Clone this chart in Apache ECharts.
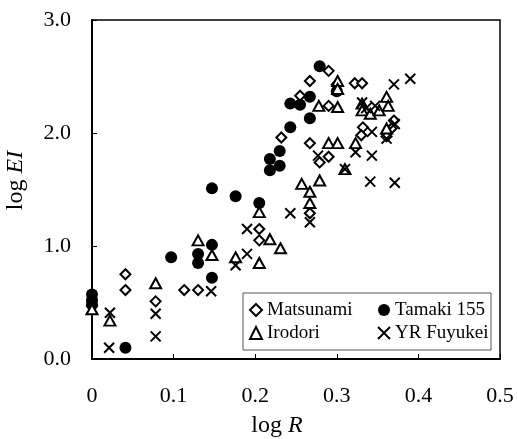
<!DOCTYPE html>
<html>
<head>
<meta charset="utf-8">
<script src="https://cdn.jsdelivr.net/npm/echarts@6/dist/echarts.min.js"></script>
<style>
  html, body { margin: 0; padding: 0; background: #fff; }
  #chart { width: 517px; height: 439px; }
</style>
</head>
<body>
<div id="chart"></div>
<script>
// [log R, log EI] pairs
var matsunami = [
  [0, 0.47], [0.041, 0.75], [0.041, 0.61], [0.078, 0.51], [0.113, 0.61], [0.130, 0.61],
  [0.205, 1.15], [0.205, 1.05], [0.267, 1.29], [0.232, 1.96], [0.255, 2.33], [0.267, 2.46],
  [0.290, 2.55], [0.290, 2.24], [0.300, 2.43], [0.322, 2.44], [0.331, 2.44], [0.267, 1.91],
  [0.279, 1.74], [0.290, 1.79], [0.332, 2.05], [0.330, 1.98], [0.370, 2.11], [0.367, 2.04],
  [0.361, 1.97]
];
var tamaki = [
  [0, 0.57], [0, 0.52], [0, 0.48], [0.041, 0.10], [0.097, 0.90], [0.130, 0.93], [0.130, 0.85],
  [0.147, 1.51], [0.147, 1.01], [0.147, 0.72], [0.176, 1.44], [0.205, 1.38], [0.218, 1.77],
  [0.230, 1.84], [0.230, 1.71], [0.218, 1.67], [0.243, 2.05], [0.267, 2.13], [0.243, 2.26],
  [0.255, 2.25], [0.267, 2.32], [0.279, 2.59], [0.300, 2.37]
];
var irodori = [
  [0, 0.44], [0.022, 0.34], [0.078, 0.67], [0.130, 1.05], [0.147, 0.92], [0.176, 0.90],
  [0.205, 0.85], [0.205, 1.30], [0.218, 1.06], [0.231, 0.98], [0.257, 1.55], [0.279, 1.58],
  [0.267, 1.48], [0.267, 1.38], [0.278, 2.24], [0.301, 2.23], [0.301, 2.46], [0.301, 2.39],
  [0.290, 1.91], [0.301, 1.91], [0.310, 1.68], [0.323, 1.91], [0.331, 2.26], [0.331, 2.20],
  [0.341, 2.17], [0.352, 2.20], [0.361, 2.32], [0.363, 2.24], [0.361, 2.04]
];
var fuyukei = [
  [0.022, 0.41], [0.021, 0.10], [0.078, 0.40], [0.078, 0.20], [0.146, 0.60], [0.176, 0.83],
  [0.190, 0.93], [0.190, 1.15], [0.243, 1.29], [0.267, 1.21], [0.277, 1.80], [0.310, 1.68],
  [0.323, 1.83], [0.331, 2.27], [0.336, 2.22], [0.347, 2.24], [0.343, 2.01], [0.371, 2.08],
  [0.361, 1.95], [0.343, 1.80], [0.341, 1.57], [0.371, 1.56], [0.370, 2.43], [0.390, 2.48]
];
var seriesNames = ['Matsunami', 'Tamaki 155', 'Irodori', 'YR Fuyukei'];

var font = 'Liberation Serif';
var crossPath = 'path://M0,0L10,10M0,10L10,0';

var chart = echarts.init(document.getElementById('chart'));

function scatter(name, data, symbol, size, filled) {
  return {
    name: name,
    type: 'scatter',
    data: data,
    symbol: symbol,
    symbolSize: size,
    itemStyle: {
      color: filled ? '#000' : '#fff',
      borderColor: '#000',
      borderWidth: filled ? 0 : 2,
      opacity: 1
    }
  };
}

function legendCol(names, left) {
  return {
    data: names,
    orient: 'vertical',
    left: left,
    top: 300,
    padding: 0,
    itemGap: 3,
    itemWidth: 12,
    itemHeight: 12,
    selectedMode: false,
    z: 5,
    textStyle: { fontFamily: font, fontSize: 19, lineHeight: 20, color: '#000' }
  };
}

var nameRich = {
  n: { fontFamily: font, fontSize: 24, color: '#000' },
  i: { fontFamily: font, fontSize: 24, fontStyle: 'italic', color: '#000' }
};

chart.setOption({
  backgroundColor: '#fff',
  animation: false,
  grid: {
    left: 92,
    right: 17,
    top: 20,
    bottom: 80,
    outerBoundsMode: 'none',
    containLabel: false,
    show: true,
    borderColor: '#000',
    borderWidth: 1.5
  },
  graphic: [{
    type: 'rect',
    z: 3,
    shape: { x: 243, y: 293, width: 248, height: 57 },
    style: { fill: '#fff', stroke: '#555', lineWidth: 1 }
  }],
  legend: [
    legendCol([seriesNames[0], seriesNames[2]], 249),
    legendCol([seriesNames[1], seriesNames[3]], 377)
  ],
  xAxis: {
    type: 'value',
    min: 0,
    max: 0.5,
    interval: 0.1,
    name: '{n|log }{i|R}',
    nameLocation: 'middle',
    nameGap: 55,
    nameTextStyle: { padding: [0, 38, 0, 0], rich: nameRich },
    axisLine: { lineStyle: { color: '#000', width: 2 } },
    axisTick: { inside: true, length: 5, lineStyle: { color: '#000', width: 1 } },
    axisLabel: {
      margin: 26,
      fontFamily: font,
      fontSize: 22,
      color: '#000',
      formatter: function (v) { return v === 0 ? '0' : v.toFixed(1); }
    },
    splitLine: { show: false }
  },
  yAxis: {
    type: 'value',
    min: 0,
    max: 3,
    interval: 1,
    name: '{n|log }{i|EI}',
    nameLocation: 'middle',
    nameGap: 64,
    nameTextStyle: { padding: [0, 0, 0, 18], rich: nameRich },
    axisLine: { lineStyle: { color: '#000', width: 2 } },
    axisTick: { inside: true, length: 5, lineStyle: { color: '#000', width: 1 } },
    axisLabel: {
      margin: 21,
      fontFamily: font,
      fontSize: 22,
      color: '#000',
      formatter: function (v) { return v.toFixed(1); }
    },
    splitLine: { show: false }
  },
  series: [
    scatter(seriesNames[0], matsunami, 'diamond', 10, false),
    scatter(seriesNames[1], tamaki, 'circle', 12, true),
    scatter(seriesNames[2], irodori, 'triangle', [11, 10], false),
    scatter(seriesNames[3], fuyukei, crossPath, 10, false)
  ]
});
</script>
</body>
</html>
